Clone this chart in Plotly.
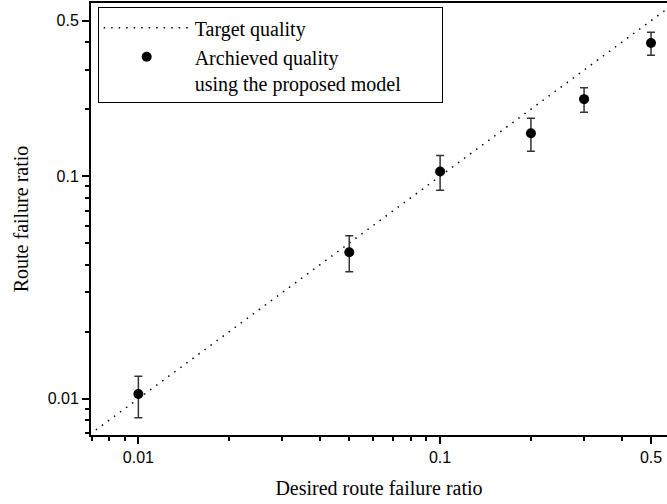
import plotly.graph_objects as go

# ---- data ----
desired_ratio = [0.01, 0.05, 0.1, 0.2, 0.3, 0.5]
achieved_ratio = [0.0105, 0.0455, 0.105, 0.156, 0.222, 0.397]
achieved_upper = [0.0126, 0.054, 0.124, 0.182, 0.250, 0.444]
achieved_lower = [0.0082, 0.0372, 0.0865, 0.1295, 0.194, 0.350]

target_x = [0.005, 1.0]
target_y = [0.005, 1.0]

major_ticks = [0.01, 0.1, 0.5]
major_labels = ["0.01", "0.1", "0.5"]
minor_ticks = [0.007, 0.008, 0.009, 0.02, 0.03, 0.04, 0.05, 0.06, 0.07, 0.08, 0.09,
               0.2, 0.3, 0.4]

err_plus = [u - a for u, a in zip(achieved_upper, achieved_ratio)]
err_minus = [a - l for a, l in zip(achieved_ratio, achieved_lower)]

serif = "Liberation Serif, Times New Roman, serif"
sans = "Liberation Sans, Arial, sans-serif"

pad = "\u00a0" * 7

fig = go.Figure()
fig.add_trace(go.Scatter(
    x=target_x, y=target_y, mode="lines", name="Target quality",
    line=dict(color="black", width=1.5, dash="1.5px,6px"),
))
fig.add_trace(go.Scatter(
    x=desired_ratio, y=achieved_ratio, mode="markers",
    name="Archieved quality<br>using the proposed model" + pad,
    marker=dict(color="black", size=10),
    error_y=dict(type="data", symmetric=False, array=err_plus, arrayminus=err_minus,
                 color="#333333", thickness=1.5, width=4),
))

axis_common = dict(
    type="log", showgrid=False, zeroline=False,
    showline=True, linecolor="black", linewidth=2,
    ticks="outside", ticklen=7, tickwidth=1.5, tickcolor="black",
    tickvals=major_ticks, ticktext=major_labels,
    tickfont=dict(family=sans, size=16, color="black"),
    minor=dict(ticks="outside", ticklen=4, tickwidth=1.5, tickcolor="black",
               tickvals=minor_ticks, showgrid=False),
)

fig.update_layout(
    width=667, height=504,
    margin=dict(l=91, r=0, t=3, b=69),
    paper_bgcolor="white", plot_bgcolor="white",
    font=dict(family=serif, color="black"),
    xaxis=dict(axis_common, range=[-2.157, -0.248], mirror=True,
               title=dict(text="Desired route failure ratio",
                          font=dict(family=serif, size=20), standoff=16)),
    yaxis=dict(axis_common, range=[-2.1635, -0.2215],
               title=dict(text="Route failure ratio",
                          font=dict(family=serif, size=20), standoff=14)),
    legend=dict(x=0.0116, y=0.99, xanchor="left", yanchor="top",
                bordercolor="black", borderwidth=1, bgcolor="white",
                font=dict(family=serif, size=20, color="black"),
                itemwidth=86, valign="top", tracegroupgap=0),
    showlegend=True,
)

fig.write_html("out.html")
